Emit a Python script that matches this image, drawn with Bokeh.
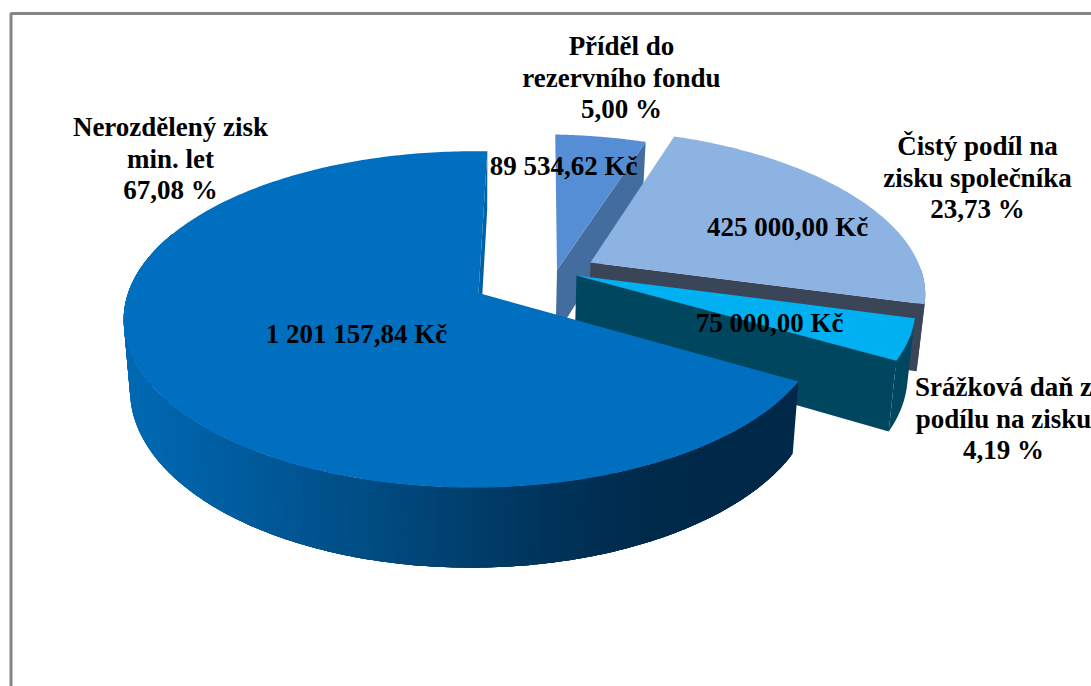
import numpy as np
from bokeh.core.properties import value
from bokeh.embed import file_html
from bokeh.models import ColumnDataSource, Range1d
from bokeh.plotting import figure
from bokeh.resources import INLINE

# Profit distribution, in slice order (clockwise from the top)
categories = [
    ["Příděl do", "rezervního fondu"],
    ["Čistý podíl na", "zisku společníka"],
    ["Srážková daň z", "podílu na zisku"],
    ["Nerozdělený zisk", "min. let"],
]
amounts = [89534.62, 425000.00, 75000.00, 1201157.84]

W, H = 1091, 686
START_DEG = 1.7

# Projection of the unit disc to the page: apex, scales and perspective terms
APEX_X, APEX_Y = 478.0, 292.5
SCALE_X, SCALE_Y = 345.5, 164.0
PERSP_V, PERSP_U = 0.157, 0.014
DEPTH = 67.5
DEPTH_SHRINK = 0.982

# Where each slice's apex lands after being pulled out of the pie
slice_apex = [(556.5, 269.5), (590.0, 262.0), (576.0, 275.0), (APEX_X, APEX_Y)]
top_colors = ["#558ed5", "#8db3e2", "#00b0f0", "#006fc0"]
wall_colors = ["#446d9f", "#3a4558", "#00465f", None]
# Angle from which each small slice's outer rim can be seen
rim_visible_from = [None, 92.0, 0.0, None]

# Horizontal shading of the large slice's rim
rim_x = [120, 210, 300, 390, 470, 560, 650, 800]
rim_rgb = [(0, 106, 180), (0, 95, 163), (0, 84, 145), (0, 73, 126),
           (0, 62, 108), (0, 50, 88), (0, 42, 74), (0, 40, 72)]


def project(u, v):
    w = 1 + PERSP_V * v + PERSP_U * u
    return APEX_X + SCALE_X * u / w, APEX_Y - SCALE_Y * v / w, w


def unproject(x, y):
    px, py = (x - APEX_X) / SCALE_X, (APEX_Y - y) / SCALE_Y
    w = 1 / (1 - PERSP_V * py - PERSP_U * px)
    return px * w, py * w


def lowered(x, y, w):
    return APEX_X + (x - APEX_X) * DEPTH_SHRINK, y + DEPTH / w


def rim(angle_deg, off):
    a = np.radians(angle_deg)
    return project(np.sin(a) + off[0], np.cos(a) + off[1])


def hex_rgb(c):
    return "#%02x%02x%02x" % tuple(int(round(i)) for i in c)


def rim_color(x):
    return hex_rgb([np.interp(x, rim_x, [c[i] for c in rim_rgb]) for i in range(3)])


total = sum(amounts)
shares = [a / total for a in amounts]
edges = START_DEG + 360 * np.concatenate([[0], np.cumsum(shares)])
offsets = [unproject(*a) for a in slice_apex]

p = figure(width=W, height=H, x_range=Range1d(0, W), y_range=Range1d(H, 0),
           output_backend="svg", toolbar_location=None, min_border=0,
           x_axis_location=None, y_axis_location=None, outline_line_color=None)
p.grid.visible = False
p.background_fill_color = "white"
p.border_fill_color = "white"

# Chart area border, continuing past the page on the right and bottom
p.line([10.5, 10.5, W + 5], [H + 5, 13, 13], line_color="#868686", line_width=3)


def add_patch(xs, ys, color):
    p.patch(list(xs), list(ys), fill_color=color, line_color=None)


def draw_small_slice(i):
    a0, a1, off = edges[i], edges[i + 1], offsets[i]
    angles = np.linspace(a0, a1, 80)
    x, y, w = rim(angles, off)
    ax, ay, aw = project(off[0], off[1])
    lx, ly = lowered(x, y, w)
    alx, aly = lowered(ax, ay, aw)
    # outer rim where it faces the viewer, then the cut face at the clockwise end
    if rim_visible_from[i] is not None:
        keep = angles >= rim_visible_from[i]
        add_patch(np.r_[x[keep], lx[keep][::-1]], np.r_[y[keep], ly[keep][::-1]], wall_colors[i])
    add_patch([ax, x[-1], lx[-1], alx], [ay, y[-1], ly[-1], aly], wall_colors[i])
    add_patch(np.r_[ax, x], np.r_[ay, y], top_colors[i])


# Cut face of the large slice, seen as a thin sliver behind its top
main = len(amounts) - 1
mx, my, mw = rim(np.array([edges[main + 1]]), offsets[main])
lmx, lmy = lowered(mx, my, mw)
alx, aly = lowered(APEX_X, APEX_Y, 1.0)
add_patch([APEX_X, mx[0], lmx[0], alx], [APEX_Y, my[0], lmy[0], aly], "#0060a6")

for i in range(main):
    draw_small_slice(i)

# Shaded rim of the large slice: overlapping strips painted one over the next,
# so that no background shows through between neighbours
rim_angles = np.linspace(edges[main], 292, 200)
tx, ty, tw = rim(rim_angles, offsets[main])
bx, by = lowered(tx, ty, tw)
OVERLAP = 4
n_strips = len(tx) - 1
ends = [min(j + OVERLAP, n_strips) for j in range(n_strips)]
strips = ColumnDataSource(dict(
    xs=[list(tx[j:e + 1]) + list(bx[j:e + 1][::-1]) for j, e in zip(range(n_strips), ends)],
    ys=[list(ty[j:e + 1]) + list(by[j:e + 1][::-1]) for j, e in zip(range(n_strips), ends)],
    c=[rim_color((tx[j] + tx[j + 1]) / 2) for j in range(n_strips)],
))
p.patches("xs", "ys", source=strips, fill_color="c", line_color=None)

# Top of the large slice
angles = np.linspace(edges[main], edges[main + 1], 300)
x, y, _ = rim(angles, offsets[main])
add_patch(np.r_[APEX_X, x], np.r_[APEX_Y, y], top_colors[main])


def money(a):
    return f"{a:,.2f}".replace(",", " ").replace(".", ",") + " Kč"


def percent(s):
    return f"{s * 100:.2f}".replace(".", ",") + " %"


# Anchors of the outside captions (centre x, first line y) and of the amounts
caption_at = [(621, 45.5), (977, 145.5), (1003, 386.5), (170, 126.5)]
amount_at = [(563, 165), (787, 226), (769, 322), (356, 333)]
LINE_STEP = 31.5

tx_, ty_, txt = [], [], []
for i in range(len(amounts)):
    lines = categories[i] + [percent(shares[i])]
    for n, line in enumerate(lines):
        tx_.append(caption_at[i][0])
        ty_.append(caption_at[i][1] + n * LINE_STEP)
        txt.append(line)
    tx_.append(amount_at[i][0])
    ty_.append(amount_at[i][1])
    txt.append(money(amounts[i]))

p.text(tx_, ty_, text=txt, text_font=value("Liberation Serif"), text_font_style="bold",
       text_font_size="27px", text_color="#000000", text_align="center",
       text_baseline="middle")

open("out.html", "w").write(file_html(p, INLINE))
